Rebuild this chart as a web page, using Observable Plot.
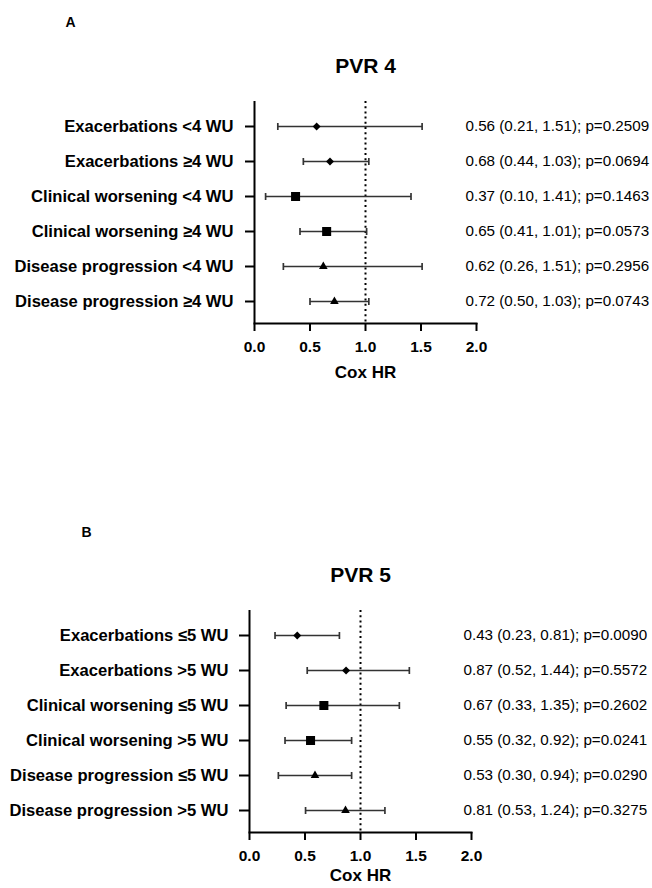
<!DOCTYPE html>
<html><head><meta charset="utf-8">
<script src="https://cdn.jsdelivr.net/npm/d3@7"></script>
<script src="https://cdn.jsdelivr.net/npm/@observablehq/plot@0.6"></script>
<style>
body{margin:0;background:#fff;}
#chart{width:652px;height:888px;overflow:hidden;background:#fff;}
#chart svg{display:block;}
</style>
</head><body><div id="chart"></div>
<script>
// ---- Data: panel A (PVR 4) ----
const pvr4Labels = ["Exacerbations <4 WU","Exacerbations ≥4 WU","Clinical worsening <4 WU","Clinical worsening ≥4 WU","Disease progression <4 WU","Disease progression ≥4 WU"];
const pvr4HR = [0.56, 0.68, 0.37, 0.65, 0.62, 0.72];
const pvr4Lo = [0.21, 0.44, 0.10, 0.41, 0.26, 0.50];
const pvr4Hi = [1.51, 1.03, 1.41, 1.01, 1.51, 1.03];
const pvr4Annot = ["0.56 (0.21, 1.51); p=0.2509","0.68 (0.44, 1.03); p=0.0694","0.37 (0.10, 1.41); p=0.1463","0.65 (0.41, 1.01); p=0.0573","0.62 (0.26, 1.51); p=0.2956","0.72 (0.50, 1.03); p=0.0743"];

// ---- Data: panel B (PVR 5) ----
const pvr5Labels = ["Exacerbations ≤5 WU","Exacerbations >5 WU","Clinical worsening ≤5 WU","Clinical worsening >5 WU","Disease progression ≤5 WU","Disease progression >5 WU"];
const pvr5HR = [0.43, 0.87, 0.67, 0.55, 0.59, 0.865];
const pvr5Lo = [0.23, 0.52, 0.33, 0.32, 0.26, 0.505];
const pvr5Hi = [0.81, 1.44, 1.35, 0.92, 0.92, 1.22];
const pvr5Annot = ["0.43 (0.23, 0.81); p=0.0090","0.87 (0.52, 1.44); p=0.5572","0.67 (0.33, 1.35); p=0.2602","0.55 (0.32, 0.92); p=0.0241","0.53 (0.30, 0.94); p=0.0290","0.81 (0.53, 1.24); p=0.3275"];

const outcomeSymbols = ["diamond2","diamond2","square","square","triangle","triangle"];
const xTicks = [0, 0.5, 1, 1.5, 2];
const xLabel = "Cox HR";

function panel(o) {
  const rows = o.labels.map((label, i) => ({label, hr: o.hr[i], lo: o.lo[i], hi: o.hi[i], symbol: outcomeSymbols[i], annot: o.annot[i]}));
  const symbolR = {diamond2: 3.6, square: 5.1, triangle: 3.2};
  const barColor = "#333";
  return Plot.plot({
    width: 652, height: o.height,
    marginTop: o.marginTop, marginBottom: o.marginBottom, marginLeft: o.marginLeft, marginRight: o.marginRight,
    style: {fontFamily: "'Liberation Sans', Arial, sans-serif", fontSize: "15px", fontWeight: "bold", color: "#000", background: "#fff", overflow: "visible"},
    x: {domain: [0, 2]},
    y: {type: "point", domain: o.labels, padding: 0, insetTop: 25, insetBottom: 22},
    marks: [
      Plot.ruleX([1], {strokeDasharray: "2,3.2", strokeWidth: 2, stroke: "#000"}),
      Plot.link(rows, {x1: "lo", x2: "hi", y1: "label", y2: "label", stroke: barColor, strokeWidth: 1.3, markerStart: "tick", markerEnd: "tick"}),
      ...Object.keys(symbolR).map(s => Plot.dot(rows.filter(d => d.symbol === s), {x: "hr", y: "label", symbol: s, r: symbolR[s], fill: "#000", stroke: "none"})),
      Plot.ruleX([0], {strokeWidth: 2, stroke: "#000"}),
      Plot.frame({anchor: "bottom", strokeWidth: 2, stroke: "#000"}),
      Plot.axisY({tickSize: o.tickSize, tickPadding: o.tickPadding, strokeWidth: 2, label: null, fontSize: 16.6}),
      Plot.axisX({ticks: xTicks, tickFormat: d3.format(".1f"), tickSize: 8, tickPadding: 9, strokeWidth: 2, label: null, fontSize: 15.5}),
      Plot.text(rows, {y: "label", text: "annot", frameAnchor: "right", textAnchor: "start", dx: o.annotDx, fontWeight: "normal", fontSize: 15.2}),
      Plot.text([xLabel], {text: d => d, frameAnchor: "bottom", lineAnchor: "middle", dy: o.xLabelDy, fontSize: 17}),
      Plot.text([o.title], {text: d => d, frameAnchor: "top", lineAnchor: "middle", dy: -35, fontSize: 21}),
      Plot.text([o.letter], {text: d => d, frameAnchor: "top-left", lineAnchor: "middle", textAnchor: "middle", dx: o.letterDx, dy: o.letterDy, fontSize: 14})
    ]
  });
}

const chart = document.getElementById("chart");
chart.append(panel({
  labels: pvr4Labels, hr: pvr4HR, lo: pvr4Lo, hi: pvr4Hi, annot: pvr4Annot,
  title: "PVR 4", letter: "A",
  height: 488, marginTop: 101, marginBottom: 165, marginLeft: 254, marginRight: 176,
  tickSize: 9, tickPadding: 12, annotDx: -11, xLabelDy: 49, letterDx: -184, letterDy: -78.5
}));
chart.append(panel({
  labels: pvr5Labels, hr: pvr5HR, lo: pvr5Lo, hi: pvr5Hi, annot: pvr5Annot,
  title: "PVR 5", letter: "B",
  height: 400, marginTop: 122, marginBottom: 56, marginLeft: 249, marginRight: 181,
  tickSize: 10, tickPadding: 11, annotDx: -8, xLabelDy: 43, letterDx: -163, letterDy: -78
}));
</script>
</body></html>
